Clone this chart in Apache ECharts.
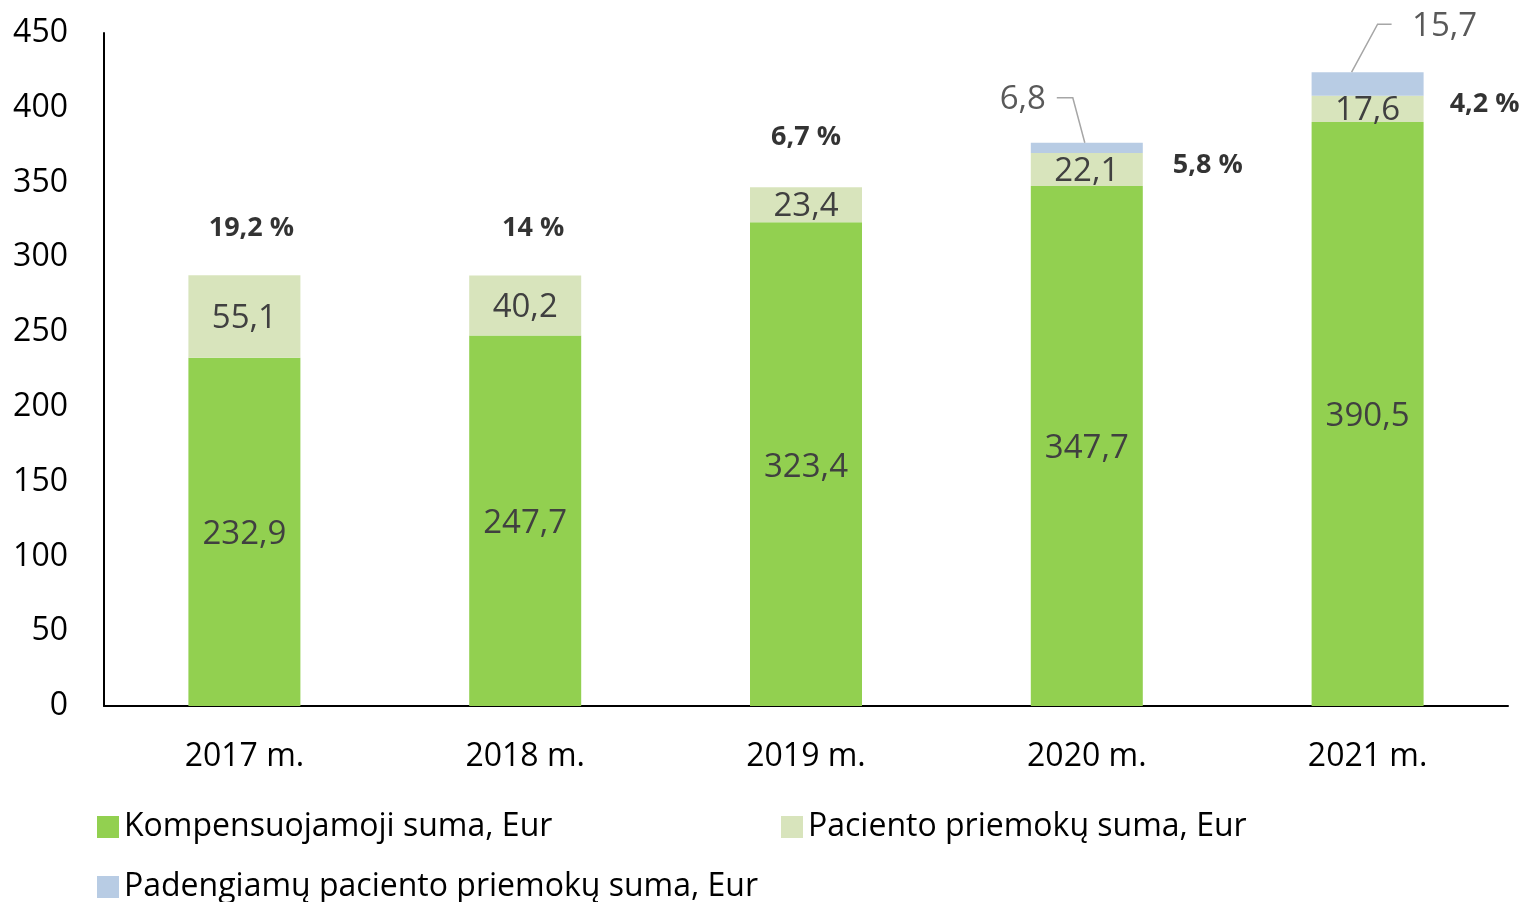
<!DOCTYPE html>
<html><head><meta charset="utf-8">
<script src="https://cdn.jsdelivr.net/npm/echarts@6/dist/echarts.min.js"></script>
<style>html,body{margin:0;padding:0;background:#fff}#c{width:1525px;height:902px}</style>
</head><body><div id="c"></div>
<script>
const categories = ['2017 m.', '2018 m.', '2019 m.', '2020 m.', '2021 m.'];
const kompensuojamoji = [232.9, 247.7, 323.4, 347.7, 390.5];
const priemokos = [55.1, 40.2, 23.4, 22.1, 17.6];
const padengiamos = [null, null, null, 6.8, 15.7];
const pctLabels = ['19,2 %', '14 %', '6,7 %', '5,8 %', '4,2 %'];
const yTicks = [0, 50, 100, 150, 200, 250, 300, 350, 400, 450];

const FONT = 'Open Sans';
const fmt = v => String(v).replace('.', ',');
const totals = categories.map((c, i) => kompensuojamoji[i] + priemokos[i] + (padengiamos[i] || 0));
const pctOffsets = [[7, -47], [8, -47], [0, -50], [121, 23], [117, 32]];
const blueShift = [null, null, null, [-64, -22], [77, -24]];
// leader-line bends relative to the top-centre of each blue segment
const leaderBends = [null, null, null, [[-2, 0], [-14, -45], [-30, -45]], [[-16, 0], [10, -48], [24, -48]]];

const chart = echarts.init(document.getElementById('c'));
chart.setOption({
  animation: false,
  textStyle: { fontFamily: FONT },
  grid: { left: 104, right: 17, top: 33, bottom: 196 },
  xAxis: {
    type: 'category', data: categories,
    axisLine: { lineStyle: { color: '#000', width: 2 } },
    axisTick: { show: false },
    axisLabel: { color: '#000', fontSize: 32, margin: 35, fontFamily: FONT }
  },
  yAxis: {
    type: 'value', min: 0, max: 450, interval: 50,
    axisLine: { show: true, lineStyle: { color: '#000', width: 2 } },
    splitLine: { show: false },
    axisLabel: { color: '#000', fontSize: 32, margin: 36, fontFamily: FONT,
      formatter: v => yTicks.includes(v) ? String(v) : '' }
  },
  legend: [
    { left: 92, top: 806, itemWidth: 22, itemHeight: 22, itemGap: 9, icon: 'rect',
      textStyle: { fontSize: 32, color: '#000', fontFamily: FONT },
      data: ['Kompensuojamoji suma, Eur'] },
    { left: 776, top: 806, itemWidth: 22, itemHeight: 22, icon: 'rect',
      textStyle: { fontSize: 32, color: '#000', fontFamily: FONT },
      data: ['Paciento priemokų suma, Eur'] },
    { left: 92, top: 866, itemWidth: 22, itemHeight: 22, icon: 'rect',
      textStyle: { fontSize: 32, color: '#000', fontFamily: FONT },
      data: ['Padengiamų paciento priemokų suma, Eur'] }
  ],
  series: [
    { name: 'Kompensuojamoji suma, Eur', type: 'bar', stack: 'a', barWidth: 112,
      data: kompensuojamoji, itemStyle: { color: '#92D050' },
      label: { show: true, position: 'inside', offset: [0, 3], color: '#404040', fontSize: 33, fontFamily: FONT, formatter: p => fmt(p.value) } },
    { name: 'Paciento priemokų suma, Eur', type: 'bar', stack: 'a', barWidth: 112,
      data: priemokos, itemStyle: { color: '#D8E4BC' },
      label: { show: true, position: 'inside', offset: [0, 2], color: '#404040', fontSize: 33, fontFamily: FONT, formatter: p => fmt(p.value) } },
    { name: 'Padengiamų paciento priemokų suma, Eur', type: 'bar', stack: 'a', barWidth: 112,
      data: padengiamos, itemStyle: { color: '#B8CCE4' },
      label: { show: true, position: 'top', color: '#595959', fontSize: 33, fontFamily: FONT,
        formatter: p => p.value == null ? '' : fmt(p.value) },
      labelLayout: p => blueShift[p.dataIndex] ? { dx: blueShift[p.dataIndex][0], dy: blueShift[p.dataIndex][1] } : {} },
    { type: 'scatter', symbolSize: 0, silent: true, z: 10,
      data: totals.map((t, i) => ({ value: [categories[i], t],
        label: { offset: pctOffsets[i] } })),
      label: { show: true, position: 'inside', color: '#000', fontSize: 27, fontWeight: 'bold', fontFamily: FONT,
        formatter: p => pctLabels[p.dataIndex] } }
  ]
});

const leaders = [];
padengiamos.forEach((v, i) => {
  if (v == null || !leaderBends[i]) return;
  const top = chart.convertToPixel({ seriesIndex: 2 }, [i, totals[i]]);
  leaders.push({
    type: 'polyline', silent: true, z: 20,
    shape: { points: leaderBends[i].map(b => [top[0] + b[0], top[1] + b[1]]) },
    style: { stroke: '#A6A6A6', lineWidth: 1.5, fill: null }
  });
});
chart.setOption({ graphic: leaders });
</script></body></html>
